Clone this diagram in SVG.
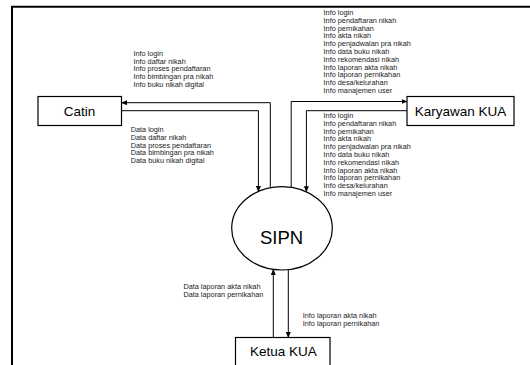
<svg xmlns="http://www.w3.org/2000/svg" width="530" height="365" viewBox="0 0 530 365">
<style>
.box{fill:#fff;stroke:#000;stroke-width:1.2}
.lbl{font-family:"Liberation Sans",Arial,sans-serif;font-size:13.5px;fill:#000;text-anchor:middle}
.big{font-family:"Liberation Sans",Arial,sans-serif;font-size:18.5px;fill:#000;text-anchor:middle}
.sm{font-family:"Liberation Sans",Arial,sans-serif;font-size:7.3px;fill:#222}
.flow{fill:none;stroke:#000;stroke-width:1;marker-end:url(#ah)}
</style>
<defs>
<marker id="ah" markerUnits="userSpaceOnUse" markerWidth="6" markerHeight="5" refX="5.5" refY="2.5" orient="auto">
<path d="M0,0 L6,2.5 L0,5 Z" fill="#000"/>
</marker>
</defs>
<rect width="530" height="365" fill="#fff"/>
<path d="M12,365 V6.7 H530" fill="none" stroke="#000" stroke-width="2"/>
<g id="connectors">
<path class="flow" d="M270.3,187.7 V102.7 H121.5"/>
<path class="flow" d="M121.5,110.7 H258.4 V191.5"/>
<path class="flow" d="M291.2,187.3 V101.5 H407"/>
<path class="flow" d="M407,110.7 H306.4 V191.8"/>
<path class="flow" d="M273.3,337.5 V269.4"/>
<path class="flow" d="M288.3,269.7 V337.5"/>
</g>
<g id="labels">
<text class="sm" x="133.4" y="55.7"><tspan x="133.4">Info login</tspan><tspan x="133.4" dy="7.8">Info daftar nikah</tspan><tspan x="133.4" dy="7.8">Info proses pendaftaran</tspan><tspan x="133.4" dy="7.8">Info bimbingan pra nikah</tspan><tspan x="133.4" dy="7.8">Info buku nikah digital</tspan></text>
<text class="sm" x="130.7" y="132"><tspan x="130.7">Data login</tspan><tspan x="130.7" dy="7.8">Data daftar nikah</tspan><tspan x="130.7" dy="7.8">Data proses pendaftaran</tspan><tspan x="130.7" dy="7.8">Data bimbingan pra nikah</tspan><tspan x="130.7" dy="7.8">Data buku nikah digital</tspan></text>
<text class="sm" x="323.6" y="15"><tspan x="323.6">Info login</tspan><tspan x="323.6" dy="7.8">Info pendaftaran nikah</tspan><tspan x="323.6" dy="7.8">Info pernikahan</tspan><tspan x="323.6" dy="7.8">Info akta nikah</tspan><tspan x="323.6" dy="7.8">Info penjadwalan pra nikah</tspan><tspan x="323.6" dy="7.8">Info data buku nikah</tspan><tspan x="323.6" dy="7.8">Info rekomendasi nikah</tspan><tspan x="323.6" dy="7.8">Info laporan akta nikah</tspan><tspan x="323.6" dy="7.8">Info laporan pernikahan</tspan><tspan x="323.6" dy="7.8">Info desa/kelurahan</tspan><tspan x="323.6" dy="7.8">Info manajemen user</tspan></text>
<text class="sm" x="323.6" y="118"><tspan x="323.6">Info login</tspan><tspan x="323.6" dy="7.8">Info pendaftaran nikah</tspan><tspan x="323.6" dy="7.8">Info pernikahan</tspan><tspan x="323.6" dy="7.8">Info akta nikah</tspan><tspan x="323.6" dy="7.8">Info penjadwalan pra nikah</tspan><tspan x="323.6" dy="7.8">Info data buku nikah</tspan><tspan x="323.6" dy="7.8">Info rekomendasi nikah</tspan><tspan x="323.6" dy="7.8">Info laporan akta nikah</tspan><tspan x="323.6" dy="7.8">Info laporan pernikahan</tspan><tspan x="323.6" dy="7.8">Info desa/kelurahan</tspan><tspan x="323.6" dy="7.8">Info manajemen user</tspan></text>
<text class="sm" x="183.4" y="288.7"><tspan x="183.4">Data laporan akta nikah</tspan><tspan x="183.4" dy="7.8">Data laporan pernikahan</tspan></text>
<text class="sm" x="302.7" y="317.7"><tspan x="302.7">Info laporan akta nikah</tspan><tspan x="302.7" dy="7.8">Info laporan pernikahan</tspan></text>
</g>
<g id="catin">
<rect class="box" x="38" y="96.5" width="83.5" height="29"/>
<text class="lbl" x="79.6" y="115.5">Catin</text>
</g>
<g id="karyawan-kua">
<rect class="box" x="407" y="96.5" width="107" height="29"/>
<text class="lbl" x="460.6" y="115.5">Karyawan KUA</text>
</g>
<g id="ketua-kua">
<rect class="box" x="235.5" y="337.5" width="94.5" height="40"/>
<text class="lbl" x="283.4" y="355.5">Ketua KUA</text>
</g>
<g id="sipn">
<ellipse class="box" cx="282" cy="228.3" rx="50.3" ry="41.7"/>
<text class="big" x="281.5" y="243.5">SIPN</text>
</g>
</svg>
